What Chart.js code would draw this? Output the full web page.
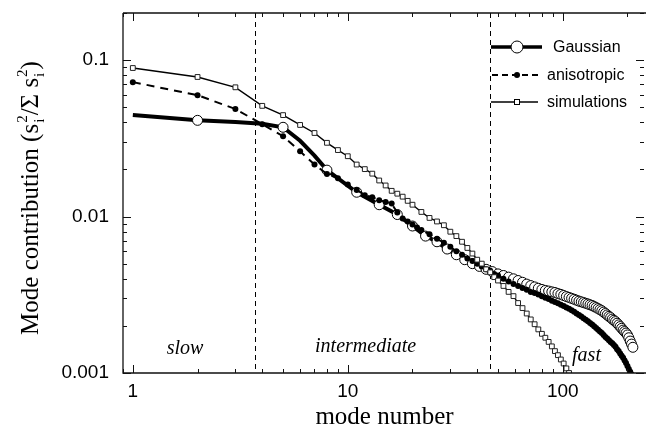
<!DOCTYPE html>
<html>
<head>
<meta charset="utf-8">
<title>Mode contribution</title>
<script src="https://cdn.jsdelivr.net/npm/chart.js@4.4.1/dist/chart.umd.min.js"></script>
<style>
  html, body { margin: 0; padding: 0; background: #fff; overflow: hidden; }
  #wrap { width: 646px; height: 432px; }
</style>
</head>
<body>
<div id="wrap"><canvas id="modeChart" width="646" height="432"></canvas></div>
<script>
/* globals Chart:false */

// series names (legend order)
const seriesNames = ["Gaussian", "anisotropic", "simulations"];

// Gaussian model (thick line, open circles on every third mode)
const gaussModes = [1, 2, 3, 4, 5, 6, 7, 8, 11, 14, 17, 20, 23, 26, 29, 32, 35, 38, 41, 44,
  47, 50, 53, 56, 59, 62, 65, 68, 71, 74, 77, 80, 83, 86, 89, 92, 95, 98, 101, 104,
  107, 110, 113, 116, 119, 122, 125, 128, 131, 134, 137, 140, 143, 146, 149, 152, 155, 158, 161, 164,
  167, 170, 173, 176, 179, 182, 185, 188, 191, 194, 197, 200, 203, 206, 209, 212];
const gaussValues = [0.0445, 0.0412, 0.0402, 0.0392, 0.0372, 0.0305, 0.0245, 0.0198, 0.0143, 0.0119, 0.0103, 0.0087, 0.0075, 0.0069, 0.0062, 0.0057, 0.0053, 0.0050, 0.0048, 0.0046,
  0.00445, 0.0043, 0.0042, 0.0041, 0.0040, 0.0039, 0.0038, 0.0037, 0.00362, 0.00355, 0.00348, 0.00342, 0.00337, 0.00334, 0.0033, 0.00327, 0.00322, 0.00318, 0.00313, 0.00308,
  0.00304, 0.0030, 0.00296, 0.00292, 0.00288, 0.00285, 0.00282, 0.00279, 0.00276, 0.00273, 0.0027, 0.00266, 0.00262, 0.00258, 0.00254, 0.0025, 0.00245, 0.0024, 0.00235, 0.0023,
  0.00226, 0.00221, 0.00217, 0.00213, 0.00208, 0.00203, 0.00198, 0.00193, 0.00188, 0.00184, 0.0018, 0.00175, 0.00168, 0.0016, 0.00153, 0.00146];

// anisotropic model (dashed line, filled dots)
const anisoModes = [1, 2, 3, 4, 5, 6, 7, 8, 9, 10, 11, 12, 13, 14, 15, 16, 17, 18, 19, 20, 21, 22,
  24, 26, 28, 30, 32, 34, 36, 38, 40, 42, 44, 46, 48, 50,
  53, 56, 59, 62, 65, 68, 71, 74, 77, 80, 83, 86, 89, 92, 95, 98, 101, 104,
  107, 110, 113, 116, 119, 122, 125, 128, 131, 134, 137, 140, 143, 146, 149, 152, 155, 158,
  161, 164, 167, 170, 173, 176, 179, 182, 185, 188, 191, 194, 197, 200, 203, 206, 209];
const anisoValues = [0.0723, 0.0597, 0.0487, 0.0389, 0.0326, 0.0261, 0.0215, 0.0187, 0.0176, 0.0160, 0.0148, 0.0137, 0.0133, 0.0127, 0.0124, 0.0121, 0.0106, 0.0097, 0.0093, 0.0089, 0.0085, 0.0082,
  0.0077, 0.0072, 0.0068, 0.0064, 0.0060, 0.0057, 0.0054, 0.0052, 0.0050, 0.0048, 0.0046, 0.0045, 0.0043, 0.0042,
  0.0040, 0.00385, 0.0037, 0.0036, 0.0035, 0.0034, 0.0033, 0.00324, 0.00317, 0.0031, 0.00303, 0.00297, 0.0029, 0.00284, 0.00279, 0.00273, 0.00268, 0.00262,
  0.00257, 0.00252, 0.00246, 0.0024, 0.00235, 0.0023, 0.00224, 0.00219, 0.00214, 0.00209, 0.00204, 0.00199, 0.00194, 0.00189, 0.00184, 0.0018, 0.00175, 0.0017,
  0.00166, 0.00162, 0.00158, 0.00155, 0.00151, 0.00147, 0.00142, 0.00138, 0.00133, 0.00129, 0.00125, 0.0012, 0.00116, 0.00111, 0.00106, 0.00102, 0.00098];

// simulations (thin line, open squares)
const simModes = [1, 2, 3, 4, 5, 6, 7, 8, 9, 10, 11, 12, 13, 14, 15, 16, 17, 18, 19, 20,
  22, 24, 26, 28, 30, 32, 34, 36, 38, 40, 42, 44, 46, 48, 50,
  53, 56, 59, 62, 65, 68, 71, 74, 77, 80, 83, 86, 89, 92, 95, 98, 101, 104, 107];
const simValues = [0.089, 0.078, 0.067, 0.051, 0.0445, 0.0385, 0.0342, 0.0296, 0.0266, 0.0243, 0.0215, 0.0201, 0.0188, 0.0170, 0.0158, 0.0146, 0.0140, 0.0134, 0.0126, 0.0119,
  0.0107, 0.0098, 0.0093, 0.0088, 0.0080, 0.0075, 0.0069, 0.0063, 0.0058, 0.0053, 0.0050, 0.0046, 0.0044, 0.0041, 0.0039,
  0.0036, 0.0033, 0.0031, 0.0028, 0.0026, 0.0024, 0.0022, 0.00205, 0.0019, 0.00178, 0.00168, 0.00158, 0.00148, 0.00138, 0.0013, 0.00122, 0.00115, 0.00107, 0.001];

// axis ticks
const modeTicks = [1, 10, 100];
const modeTickLabels = ["1", "10", "100"];
const contribTicks = [0.001, 0.01, 0.1];
const contribTickLabels = ["0.001", "0.01", "0.1"];

// regime boundaries and names
const regimeBounds = [3.7, 46];
const regimeNames = ["slow", "intermediate", "fast"];

const SANS = '"Liberation Sans", Arial, sans-serif';
const SERIF = '"Liberation Serif", "Times New Roman", serif';

function pts(modes, vals) {
  return modes.map((m, i) => ({ x: m, y: vals[i] }));
}

function tickLabel(values, labels) {
  return (v) => {
    const i = values.findIndex((t) => Math.abs(v / t - 1) < 1e-6);
    return i >= 0 ? labels[i] : "";
  };
}

function logSteps(min, max) {
  const out = [];
  for (let e = Math.floor(Math.log10(min)); e <= Math.ceil(Math.log10(max)); e++) {
    for (let k = 1; k < 10; k++) {
      const v = k * Math.pow(10, e);
      if (v >= min * 0.9999 && v <= max * 1.0001) out.push({ v, major: k === 1 });
    }
  }
  return out;
}

// keep the plot box where the reference has it
function pinBox(size, key) {
  return (s) => {
    s[key] = size;
    s.paddingTop = 0;
    s.paddingBottom = 0;
    s.paddingLeft = 0;
    s.paddingRight = 0;
  };
}

// dashed regime dividers and italic regime names, under the data
const regimes = {
  id: "regimes",
  beforeDatasetsDraw(chart) {
    const { ctx, chartArea: a, scales } = chart;
    ctx.save();
    ctx.strokeStyle = "#000";
    ctx.lineWidth = 1;
    ctx.setLineDash([5, 4]);
    for (const b of regimeBounds) {
      const x = Math.round(scales.x.getPixelForValue(b)) + 0.5;
      ctx.beginPath();
      ctx.moveTo(x, a.top);
      ctx.lineTo(x, a.bottom);
      ctx.stroke();
    }
    ctx.setLineDash([]);
    ctx.fillStyle = "#000";
    ctx.font = "italic 20px " + SERIF;
    ctx.textAlign = "center";
    ctx.textBaseline = "middle";
    const spots = [[1.75, 0.00142], [12.1, 0.00148], [129, 0.00128]];
    regimeNames.forEach((n, i) => {
      ctx.fillText(n, scales.x.getPixelForValue(spots[i][0]), scales.y.getPixelForValue(spots[i][1]));
    });
    ctx.restore();
  },
};

// box, inward ticks, y title and legend
const frame = {
  id: "frame",
  afterDraw(chart) {
    const { ctx, chartArea: a, scales } = chart;
    ctx.save();
    ctx.strokeStyle = "#111";
    ctx.lineWidth = 1.3;
    ctx.beginPath();
    ctx.moveTo(a.left, a.top);
    ctx.lineTo(a.left, a.bottom);
    ctx.lineTo(a.right, a.bottom);
    ctx.moveTo(a.left, a.top);
    ctx.lineTo(a.right, a.top);
    ctx.stroke();

    ctx.lineWidth = 1;
    ctx.beginPath();
    for (const t of logSteps(scales.x.min, scales.x.max)) {
      const x = Math.round(scales.x.getPixelForValue(t.v)) + 0.5;
      const len = t.major ? 8 : 4;
      ctx.moveTo(x, a.bottom);
      ctx.lineTo(x, a.bottom - len);
      ctx.moveTo(x, a.top);
      ctx.lineTo(x, a.top + len);
    }
    for (const t of logSteps(scales.y.min, scales.y.max)) {
      const y = Math.round(scales.y.getPixelForValue(t.v)) + 0.5;
      const len = t.major ? 8 : 4;
      ctx.moveTo(a.left, y);
      ctx.lineTo(a.left + len, y);
      ctx.moveTo(a.right - 2, y);
      ctx.lineTo(a.right - 2 - len, y);
    }
    ctx.stroke();

    // y title with sub/superscripts, rotated
    const big = "25px " + SERIF;
    const small = "15px " + SERIF;
    const parts = [
      { t: "Mode contribution (s" },
      { sub: "i", sup: "2" },
      { t: "/\u03a3 s" },
      { sub: "i", sup: "2" },
      { t: ")" },
    ];
    let total = 0;
    for (const p of parts) {
      if (p.t) {
        ctx.font = big;
        p.w = ctx.measureText(p.t).width;
      } else {
        ctx.font = small;
        p.w = Math.max(ctx.measureText(p.sub).width, ctx.measureText(p.sup).width) + 1;
      }
      total += p.w;
    }
    ctx.translate(38, 198);
    ctx.rotate(-Math.PI / 2);
    ctx.fillStyle = "#000";
    ctx.textBaseline = "alphabetic";
    ctx.textAlign = "left";
    let x = -total / 2;
    for (const p of parts) {
      if (p.t) {
        ctx.font = big;
        ctx.fillText(p.t, x, 0);
      } else {
        ctx.font = small;
        ctx.fillText(p.sub, x + 1, 6);
        ctx.fillText(p.sup, x + 1, -11);
      }
      x += p.w;
    }
    ctx.restore();

    // legend
    ctx.save();
    ctx.fillStyle = "#000";
    ctx.strokeStyle = "#000";
    ctx.font = "16px " + SANS;
    ctx.textBaseline = "middle";
    ctx.textAlign = "left";
    // Gaussian
    ctx.lineWidth = 3.5;
    ctx.beginPath();
    ctx.moveTo(491, 47);
    ctx.lineTo(542, 47);
    ctx.stroke();
    ctx.lineWidth = 1;
    ctx.beginPath();
    ctx.arc(517, 47, 6, 0, Math.PI * 2);
    ctx.fillStyle = "#fff";
    ctx.fill();
    ctx.stroke();
    ctx.fillStyle = "#000";
    ctx.fillText(seriesNames[0], 553, 48);
    // anisotropic
    ctx.lineWidth = 1.8;
    ctx.setLineDash([6, 4]);
    ctx.beginPath();
    ctx.moveTo(492, 75);
    ctx.lineTo(538, 75);
    ctx.stroke();
    ctx.setLineDash([]);
    ctx.beginPath();
    ctx.arc(517, 75, 3, 0, Math.PI * 2);
    ctx.fill();
    ctx.fillText(seriesNames[1], 547, 76);
    // simulations
    ctx.lineWidth = 1.3;
    ctx.beginPath();
    ctx.moveTo(491, 102);
    ctx.lineTo(538, 102);
    ctx.stroke();
    ctx.lineWidth = 1;
    ctx.fillStyle = "#fff";
    ctx.fillRect(514, 99, 6, 6);
    ctx.strokeRect(514.5, 99.5, 5, 5);
    ctx.fillStyle = "#000";
    ctx.fillText(seriesNames[2], 547, 103);
    ctx.restore();
  },
};

const ctx = document.getElementById("modeChart");
// eslint-disable-next-line no-unused-vars
const modeChart = new Chart(ctx, {
  type: "line",
  data: {
    datasets: [
      {
        label: seriesNames[0],
        data: pts(gaussModes, gaussValues),
        order: 3,
        borderColor: "#000",
        borderWidth: 4,
        tension: 0,
        pointStyle: "circle",
        pointRadius: (c) => ((c.raw && (c.raw.x - 2) % 3 === 0) ? 5 : 0),
        pointBackgroundColor: "#fff",
        pointBorderColor: "#000",
        pointBorderWidth: 1,
      },
      {
        label: seriesNames[1],
        data: pts(anisoModes, anisoValues),
        order: 2,
        borderColor: "#000",
        borderWidth: 2,
        borderDash: [8, 6],
        tension: 0,
        pointStyle: "circle",
        pointRadius: 3,
        pointBackgroundColor: "#000",
        pointBorderColor: "#000",
        pointBorderWidth: 0,
      },
      {
        label: seriesNames[2],
        data: pts(simModes, simValues),
        order: 1,
        borderColor: "#000",
        borderWidth: 1.4,
        tension: 0,
        pointStyle: "rect",
        pointRadius: 3.4,
        pointBackgroundColor: "#fff",
        pointBorderColor: "#222",
        pointBorderWidth: 1,
      },
    ],
  },
  options: {
    responsive: false,
    animation: false,
    events: [],
    layout: { autoPadding: false, padding: { top: 13, right: 0, left: 0, bottom: 0 } },
    plugins: {
      legend: { display: false },
      tooltip: { enabled: false },
    },
    scales: {
      x: {
        type: "logarithmic",
        min: 0.9,
        max: 244,
        grid: { display: false, drawTicks: false },
        border: { display: false },
        ticks: {
          autoSkip: false,
          maxRotation: 0,
          padding: 7,
          color: "#000",
          font: { family: SANS, size: 19 },
          callback: tickLabel(modeTicks, modeTickLabels),
        },
        title: {
          display: true,
          text: "mode number",
          color: "#000",
          font: { family: SERIF, size: 25 },
          padding: { top: 5, bottom: 0 },
        },
        afterFit: pinBox(59, "height"),
      },
      y: {
        type: "logarithmic",
        min: 0.001,
        max: 0.2,
        grid: { display: false, drawTicks: false },
        border: { display: false },
        ticks: {
          autoSkip: false,
          padding: 14,
          color: "#000",
          font: { family: SANS, size: 19 },
          callback: tickLabel(contribTicks, contribTickLabels),
        },
        afterFit: pinBox(123, "width"),
      },
    },
  },
  plugins: [regimes, frame],
});
</script>
</body>
</html>
